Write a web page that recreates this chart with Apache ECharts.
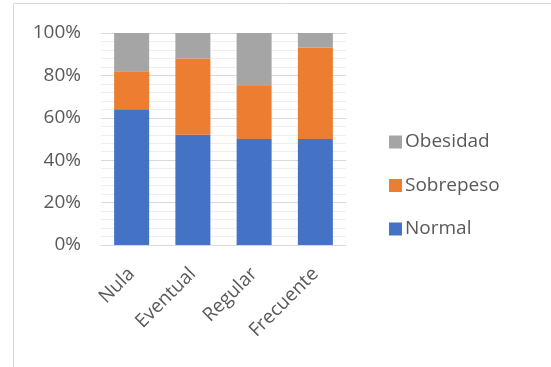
<!DOCTYPE html>
<html>
<head>
<meta charset="utf-8">
<script src="https://cdn.jsdelivr.net/npm/echarts@6/dist/echarts.min.js"></script>
<style>
  html, body { margin: 0; padding: 0; background: #fff; }
  #chart { width: 551px; height: 367px; }
</style>
</head>
<body>
<div id="chart"></div>
<script>
// categories and percentages
var categories = ['Nula', 'Eventual', 'Regular', 'Frecuente'];
var normal = [64, 52, 50, 50];
var sobrepeso = [18, 36, 25, 43];
var obesidad = [18, 12, 25, 7];

var font = '"Open Sans", "Liberation Sans", sans-serif';
var txt = '#595959';

var chart = echarts.init(document.getElementById('chart'), null, { renderer: 'canvas' });

function bar(name, data, color) {
  return {
    name: name,
    type: 'bar',
    stack: 'total',
    barWidth: 35,
    data: data,
    itemStyle: { color: color },
    emphasis: { disabled: true }
  };
}

chart.setOption({
  animation: false,
  backgroundColor: '#fff',
  graphic: [{
    type: 'rect',
    shape: { x: 13.5, y: 3.5, width: 600, height: 400 },
    style: { fill: 'none', stroke: '#d9d9d9', lineWidth: 1 },
    silent: true
  }],
  grid: { left: 101, right: 205, top: 33, bottom: 122 },
  legend: {
    orient: 'vertical',
    left: 384,
    top: 127,
    itemWidth: 13,
    itemHeight: 13,
    itemGap: 23.5,
    icon: 'rect',
    data: ['Obesidad', 'Sobrepeso', 'Normal'],
    textStyle: { fontFamily: font, fontSize: 19, color: txt, lineHeight: 20, padding: [0, 0, 0, -2] }
  },
  xAxis: {
    type: 'category',
    data: categories,
    axisLine: { lineStyle: { color: '#d9d9d9', width: 1 } },
    axisTick: { show: false },
    axisLabel: {
      rotate: 45,
      margin: 26,
      interval: 0,
      fontFamily: font,
      fontSize: 19,
      color: txt
    }
  },
  yAxis: {
    type: 'value',
    min: 0,
    max: 100,
    interval: 20,
    axisLine: { show: false },
    axisTick: { show: false },
    axisLabel: {
      formatter: '{value}%',
      margin: 20,
      fontFamily: font,
      fontSize: 19,
      color: txt
    },
    splitLine: { lineStyle: { color: '#d9d9d9', width: 1 } },
    minorTick: { show: true, splitNumber: 5, length: 0, lineStyle: { color: 'rgba(0,0,0,0)' } },
    minorSplitLine: { show: true, lineStyle: { color: '#eeeeee', width: 1 } }
  },
  series: [
    bar('Normal', normal, '#4472C4'),
    bar('Sobrepeso', sobrepeso, '#ED7D31'),
    bar('Obesidad', obesidad, '#A5A5A5')
  ]
});
</script>
</body>
</html>
